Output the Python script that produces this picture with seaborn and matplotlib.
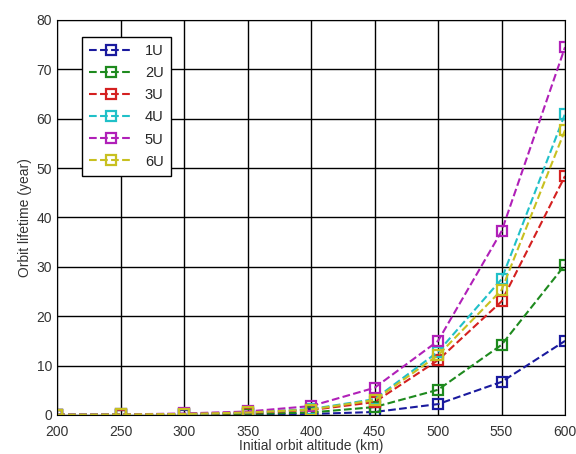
import matplotlib
matplotlib.use('Agg')

import numpy as np
import pandas as pd
import matplotlib.pyplot as plt
import seaborn as sns

altitude = [200, 250, 300, 350, 400, 450, 500, 550, 600]
life_1u = [0.02, 0.03, 0.05, 0.1, 0.2, 0.6, 2.2, 6.7, 15.0]
life_2u = [0.03, 0.05, 0.1, 0.2, 0.5, 1.6, 5.1, 14.2, 30.4]
life_3u = [0.05, 0.08, 0.2, 0.4, 1.0, 2.6, 11.1, 23.0, 48.4]
life_4u = [0.05, 0.1, 0.2, 0.5, 1.2, 3.2, 12.8, 27.5, 61.0]
life_5u = [0.06, 0.1, 0.3, 0.7, 1.8, 5.5, 15.0, 37.2, 74.5]
life_6u = [0.05, 0.1, 0.2, 0.5, 1.1, 3.0, 12.1, 25.3, 57.7]

names = ['1U', '2U', '3U', '4U', '5U', '6U']
series = [life_1u, life_2u, life_3u, life_4u, life_5u, life_6u]
colors = ['#1a1a9e', '#1e8a1e', '#d42020', '#20c0c8', '#b020b8', '#c8c020']

df = pd.concat([pd.DataFrame({'alt': altitude, 'life': s, 'size': n})
                for n, s in zip(names, series)])

sns.set_style('white')
plt.rcParams['font.family'] = ['Liberation Sans', 'DejaVu Sans']

fig = plt.figure(figsize=(5.76, 4.54), dpi=100)
ax = fig.add_axes([0.099, 0.086, 0.882, 0.870])

for n, c in zip(names, colors):
    sns.lineplot(data=df[df['size'] == n], x='alt', y='life', ax=ax, color=c,
                 linestyle='--', linewidth=1.5, marker='s', markersize=7.5,
                 markerfacecolor='none', markeredgecolor=c, markeredgewidth=1.6,
                 label=n)

ax.set_xlim(200, 600)
ax.set_ylim(0, 80)
ax.set_xticks(altitude)
ax.set_yticks(range(0, 81, 10))
ax.grid(True, color='black', linewidth=1)
ax.tick_params(direction='in', labelsize=10, colors='#333333', length=3)
ax.tick_params(axis='x', pad=7)
for sp in ax.spines.values():
    sp.set_color('black')
ax.set_xlabel('Initial orbit altitude (km)', fontsize=10, color='#333333', labelpad=0)
ax.set_ylabel('Orbit lifetime (year)', fontsize=10, color='#333333', labelpad=3)

leg = ax.legend(loc='upper left', bbox_to_anchor=(0.035, 0.975), fontsize=10.5,
                frameon=True, fancybox=False, edgecolor='black', framealpha=1,
                handlelength=3.0, borderpad=0.5, labelspacing=0.55)
leg.get_frame().set_linewidth(1)

fig.savefig('out.png', dpi=100)
